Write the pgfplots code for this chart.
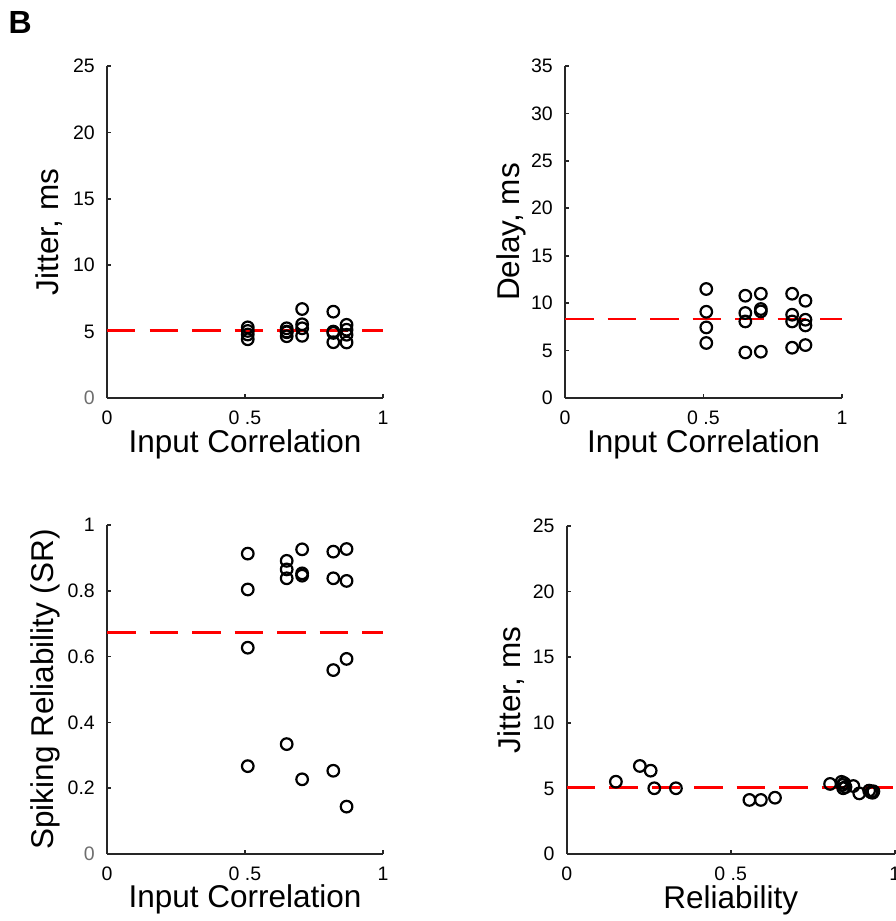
\documentclass[border=0pt]{standalone}
\usepackage{fontspec}
\setmainfont{Liberation Sans}
\usepackage{pgfplots}
\pgfplotsset{compat=1.18}
\definecolor{axgray}{RGB}{38,38,38}
\definecolor{zerogray}{RGB}{110,110,110}

\pgfplotsset{
  panel/.style={
    scale only axis,
    anchor=south west,
    axis lines=left,
    axis line style={-, line width=1.9pt, axgray},
    tick align=inside,
    major tick length=4pt,
    tick style={line width=1.6pt, axgray},
    xmin=0, xmax=1, ymin=0,
    xtick={0,0.5,1},
    xticklabels={0,0 .5,1},
    ticklabel style={font=\fontsize{19.5}{22}\selectfont, inner sep=0pt},
    xticklabel style={anchor=north, yshift=-12.5pt},
    yticklabel style={anchor=east, xshift=-12pt},
    label style={font=\fontsize{31.5}{36}\selectfont, inner sep=0pt},
    clip=false,
  },
  pts/.style={only marks, mark=o, mark size=5.8pt, mark options={line width=2.2pt, black}},
  mean/.style={red, line width=2.7pt, dash pattern=on 28.5pt off 14pt},
}

\begin{document}
\begin{tikzpicture}
\node[anchor=base west, inner sep=0pt, font=\fontsize{32}{36}\selectfont\bfseries] at (8.5pt,887.7pt) {B};

% top left: jitter vs input correlation
\begin{axis}[panel, at={(107pt,523pt)}, width=276pt, height=332pt,
  ymax=25, ytick={0,5,...,25}, yticklabels={{\color{zerogray}0},5,10,15,20,25},
  xlabel={Input Correlation}, ylabel={Jitter, ms},
  xlabel style={at={(axis description cs:0.5,-0.163)}, anchor=base},
  ylabel style={at={(axis description cs:-0.175,0.5)}, anchor=base}]
\addplot[pts] coordinates {
  (0.51,5.32) (0.51,5.05) (0.51,4.78) (0.51,4.42)
  (0.651,5.25) (0.651,5.0) (0.651,4.95) (0.651,4.65)
  (0.707,6.7) (0.707,5.55) (0.707,5.25) (0.707,4.68)
  (0.82,6.5) (0.82,5.0) (0.82,4.9) (0.82,4.2)
  (0.868,5.51) (0.868,5.14) (0.868,4.76) (0.868,4.18)
};
\addplot[mean] coordinates {(0,5.07) (1,5.07)};
\end{axis}

% top right: delay vs input correlation
\begin{axis}[panel, at={(565pt,523pt)}, width=277pt, height=332pt,
  ymax=35, ytick={0,5,...,35}, yticklabels={0,5,10,15,20,25,30,35},
  xlabel={Input Correlation}, ylabel={Delay, ms},
  xlabel style={at={(axis description cs:0.5,-0.163)}, anchor=base},
  ylabel style={at={(axis description cs:-0.163,0.5)}, anchor=base}]
\addplot[pts] coordinates {
  (0.51,11.49) (0.51,9.09) (0.51,7.44) (0.51,5.80)
  (0.651,10.78) (0.651,8.96) (0.651,8.07) (0.651,4.80)
  (0.707,10.99) (0.707,9.38) (0.707,9.13) (0.707,4.88)
  (0.82,10.99) (0.82,8.78) (0.82,8.07) (0.82,5.30)
  (0.868,10.25) (0.868,8.25) (0.868,7.65) (0.868,5.58)
};
\addplot[mean] coordinates {(0,8.32) (1,8.32)};
\end{axis}

% bottom left: spiking reliability vs input correlation
\begin{axis}[panel, at={(107pt,67pt)}, width=276pt, height=329pt,
  ymax=1, ytick={0,0.2,...,1}, yticklabels={{\color{zerogray}0},0.2,0.4,0.6,0.8,1},
  xlabel={Input Correlation}, ylabel={Spiking Reliability (SR)},
  xlabel style={at={(axis description cs:0.5,-0.164)}, anchor=base},
  ylabel style={at={(axis description cs:-0.195,0.5)}, anchor=base}]
\addplot[pts] coordinates {
  (0.51,0.913) (0.51,0.804) (0.51,0.627) (0.51,0.267)
  (0.651,0.891) (0.651,0.865) (0.651,0.838) (0.651,0.334)
  (0.707,0.926) (0.707,0.853) (0.707,0.846) (0.707,0.227)
  (0.82,0.919) (0.82,0.838) (0.82,0.559) (0.82,0.253)
  (0.868,0.927) (0.868,0.830) (0.868,0.593) (0.868,0.144)
};
\addplot[mean] coordinates {(0,0.673) (1,0.673)};
\end{axis}

% bottom right: jitter vs reliability
\begin{axis}[panel, at={(566.7pt,67pt)}, width=328pt, height=328pt,
  ymax=25, ytick={0,5,...,25}, yticklabels={0,5,10,15,20,25},
  xlabel={Reliability}, ylabel={Jitter, ms},
  xlabel style={at={(axis description cs:0.5,-0.165)}, anchor=base},
  ylabel style={at={(axis description cs:-0.14,0.5)}, anchor=base}]
\addplot[pts] coordinates {
  (0.150,5.51) (0.223,6.71) (0.256,6.35) (0.267,5.01) (0.333,5.01)
  (0.557,4.12) (0.592,4.12) (0.635,4.29) (0.803,5.34)
  (0.838,5.50) (0.841,5.26) (0.843,5.01) (0.846,5.40) (0.850,5.10)
  (0.874,5.18) (0.892,4.62) (0.922,4.83) (0.928,4.70) (0.933,4.67) (0.935,4.78)
};
\addplot[mean] coordinates {(0,5.05) (1,5.05)};
\end{axis}

\pgfresetboundingbox
\useasboundingbox (0,0) rectangle (895pt,921pt);
\end{tikzpicture}
\end{document}
